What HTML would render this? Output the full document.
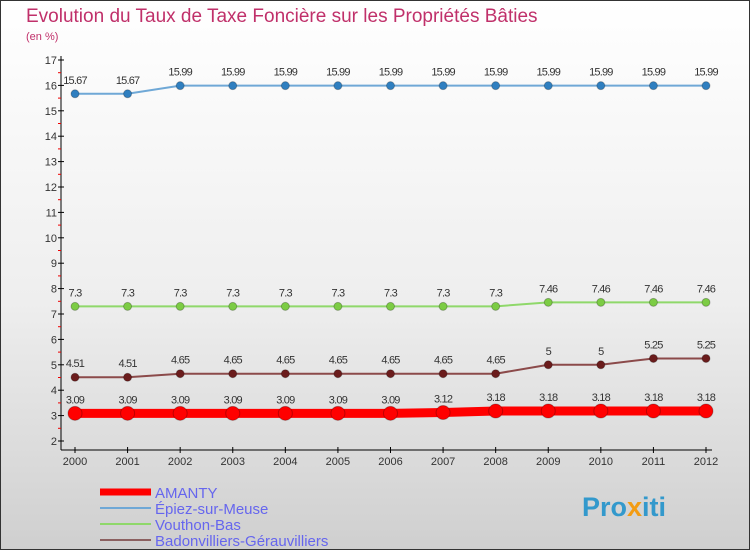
<!DOCTYPE html>
<html><head><meta charset="utf-8"><style>
body{margin:0}
#c{width:750px;height:550px;position:relative;font-family:"Liberation Sans",sans-serif;}
</style></head><body>
<div id="c">
<svg id="s" width="750" height="550" xmlns="http://www.w3.org/2000/svg">
<defs><linearGradient id="bg" x1="0" y1="0" x2="0" y2="1"><stop offset="0" stop-color="#ffffff"/><stop offset="0.55" stop-color="#eeeeee"/><stop offset="1" stop-color="#cfcfcf"/></linearGradient></defs>
<rect x="0.5" y="0.5" width="749" height="549" fill="url(#bg)" stroke="#333"/>
<text x="26" y="22" font-size="19" fill="#c0306a">Evolution du Taux de Taxe Foncière sur les Propriétés Bâties</text>
<text x="26" y="40" font-size="11" fill="#c0306a">(en %)</text>
<g id="axes"></g><g id="series"></g><g id="legend"></g>
<text x="582" y="516" font-size="27" font-weight="bold" fill="#3399cc">Pro<tspan fill="#f39c12">x</tspan>iti</text>
</svg></div>
<script>
const years=[2000,2001,2002,2003,2004,2005,2006,2007,2008,2009,2010,2011,2012];
const amanty=[3.09,3.09,3.09,3.09,3.09,3.09,3.09,3.12,3.18,3.18,3.18,3.18,3.18];
const epiez=[15.67,15.67,15.99,15.99,15.99,15.99,15.99,15.99,15.99,15.99,15.99,15.99,15.99];
const vouthon=[7.3,7.3,7.3,7.3,7.3,7.3,7.3,7.3,7.3,7.46,7.46,7.46,7.46];
const badon=[4.51,4.51,4.65,4.65,4.65,4.65,4.65,4.65,4.65,5,5,5.25,5.25];
const yTicks=[2,3,4,5,6,7,8,9,10,11,12,13,14,15,16,17];
const NS="http://www.w3.org/2000/svg";
function X(i){return 75+i*(706-75)/(years.length-1);}
function Y(v){return 441-(v-2)*(441-60)/15;}
function mk(tag,attrs,parent){const e=document.createElementNS(NS,tag);for(const k in attrs)e.setAttribute(k,attrs[k]);parent.appendChild(e);return e;}
const ax=document.getElementById('axes');
let e=mk('line',{x1:61,y1:56,x2:61,y2:450,stroke:'#000'},ax);


e=mk('line',{x1:61,y1:450,x2:712,y2:450,stroke:'#000'},ax);


yTicks.forEach(v=>{
 mk('line',{x1:58,y1:Y(v),x2:64,y2:Y(v),stroke:'#000'},ax);
 if(v<17) mk('line',{x1:58,y1:Y(v+0.5),x2:61,y2:Y(v+0.5),stroke:'#e00'},ax);
 const t=mk('text',{x:57,y:Y(v)+4,'font-size':11,'text-anchor':'end',fill:'#333'},ax);t.textContent=v;
 
 
});
years.forEach((y,i)=>{
 mk('line',{x1:X(i),y1:447,x2:X(i),y2:453,stroke:'#000'},ax);
 const t=mk('text',{x:X(i),y:465,'font-size':11,'text-anchor':'middle',fill:'#333'},ax);t.textContent=y;
 
 
});
const sg=document.getElementById('series');
function series(vals,color,lw,r,ptColor,name){
 const g=mk('g',{},sg);
 
 
 mk('polyline',{points:vals.map((v,i)=>X(i)+','+Y(v)).join(' '),fill:'none',stroke:color,'stroke-width':lw},g);
 vals.forEach((v,i)=>{
  const c=mk('circle',{cx:X(i),cy:Y(v),r:r,fill:ptColor,stroke:'rgba(0,0,0,0.25)','stroke-width':1},g);
  
  
  const t=mk('text',{x:X(i),y:Y(v)-10,'font-size':11,'text-anchor':'middle',fill:'#333','letter-spacing':'-0.8'},g);t.textContent=v;
  
  
 });
}
series(epiez,'#6fa8d6',2,4,'#2f7fc0','epiez');
series(vouthon,'#8fd86a',2,4,'#7ccc44','vouthon');
series(badon,'#8b4a4a',2,4,'#6b1c1c','badonvilliers');
series(amanty,'#ff0000',9,7,'#ff0000','amanty');
const lg=document.getElementById('legend');
[['AMANTY','#ff0000',7],['Épiez-sur-Meuse','#6fa8d6',2],['Vouthon-Bas','#8fd86a',2],['Badonvilliers-Gérauvilliers','#8b6060',2]].forEach((d,i)=>{
 const y=492+i*16;
 const l=mk('line',{x1:100,y1:y,x2:151,y2:y,stroke:d[1],'stroke-width':d[2]},lg);
 
 
 const t=mk('text',{x:155,y:y+6,'font-size':15,fill:'#6666ee'},lg);t.textContent=d[0];
 
 
});
</script>
</body></html>
